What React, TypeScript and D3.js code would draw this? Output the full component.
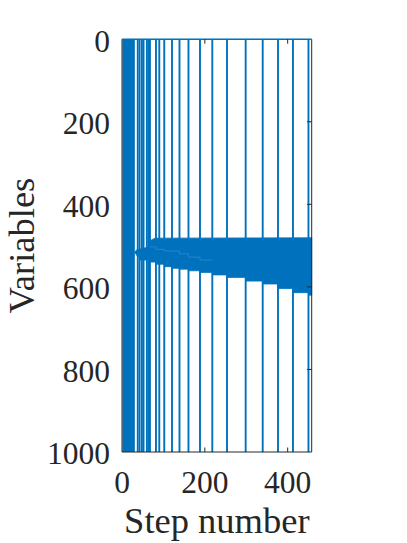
import React from "react";
import * as d3 from "d3";

// ---- data ----
const xTicks = [0, 200, 400];
const yTicks = [0, 200, 400, 600, 800, 1000];
const xDomain = [0, 458];
const yDomain = [0, 1000];
// dense block of steps drawn as solid
const denseBlock = [1, 31];
// individual vertical lines (step numbers)
const lineSteps = [38, 42.5, 48, 52, 60, 64, 67.5, 82, 90, 102, 120.7, 138.8, 160.5, 188.3, 218, 253.5, 298.6, 339.7, 376.6, 412.8, 450.2];
// band: bottom edge (step-wise)
const bandBottomSteps = [31, 38, 42.5, 67.5, 82, 102, 120.7, 138.8, 160.5, 188.3, 218, 253.5, 298.6, 339.7, 376.6, 412.8, 450.2];
const bandBottomVars = [517, 527, 535, 540, 545, 551, 555, 557, 561, 565, 571, 577, 586, 593, 604, 614, 620];
// band: top edge
const bandTopSteps = [31, 36, 67.5, 67.5, 80, 458];
const bandTopVars = [515, 510, 503, 488, 482, 481];
// light gap line inside band
const gapSteps = [67.5, 82, 102, 138.8, 160.5, 188.3, 218];
const gapVars = [503, 509, 513, 520, 528, 535, 536];

const W = 407;
const H = 543;
const left = 122, right = 311.7, top = 39.2, bottom = 452;
const BLUE = "#0072BD";
const AX = "#262626";
const FONT = "'Liberation Serif', 'Times New Roman', serif";

export default function App() {
  const x = d3.scaleLinear().domain(xDomain).range([left, right]);
  const y = d3.scaleLinear().domain(yDomain).range([top, bottom]);

  const topPts: [number, number][] = bandTopSteps.map((s, i) => [x(s), y(bandTopVars[i])]);
  const botPts: [number, number][] = [];
  bandBottomSteps.forEach((s, i) => {
    const next = i + 1 < bandBottomSteps.length ? bandBottomSteps[i + 1] : xDomain[1];
    if (i === 0) {
      botPts.push([x(s), y(bandBottomVars[i])]);
    } else {
      botPts.push([x(s), y(bandBottomVars[i])]);
      botPts.push([x(next), y(bandBottomVars[i])]);
    }
  });
  const poly = [...topPts, ...botPts.reverse()];
  const polyPath = d3.line()(poly) + "Z";

  const gapLine = d3
    .line<number>()
    .x((s) => x(s))
    .y((_, i) => y(gapVars[i]))
    .curve(d3.curveStepAfter)(gapSteps);

  return (
    <svg
      width={W}
      height={H}
      style={{ position: "absolute", left: 0, top: 0, background: "#fff" }}
    >
      <rect x={0} y={0} width={W} height={H} fill="#fff" />
      <rect
        x={x(denseBlock[0])}
        y={y(yDomain[0])}
        width={x(denseBlock[1]) - x(denseBlock[0])}
        height={y(yDomain[1]) - y(yDomain[0])}
        fill={BLUE}
      />
      {lineSteps.map((s, i) => (
        <line
          key={i}
          x1={x(s)}
          x2={x(s)}
          y1={y(yDomain[0])}
          y2={y(yDomain[1])}
          stroke={BLUE}
          strokeWidth={1.9}
        />
      ))}
      <path d={polyPath} fill={BLUE} stroke={BLUE} strokeWidth={0.8} />
      <path d={gapLine || ""} fill="none" stroke="#2f86cb" strokeWidth={0.9} />

      <line x1={left} x2={left} y1={top} y2={bottom} stroke={AX} strokeWidth={1} />
      <line x1={left} x2={right} y1={bottom} y2={bottom} stroke={AX} strokeWidth={1} />
      <line x1={right} x2={right} y1={top} y2={bottom} stroke={AX} strokeWidth={1} />
      <line x1={left} x2={right} y1={top} y2={top} stroke={BLUE} strokeWidth={1.5} />

      {xTicks.filter((t) => t > 0).map((t) => (
        <g key={"xt" + t}>
          <line x1={x(t)} x2={x(t)} y1={bottom} y2={bottom - 4.5} stroke={AX} strokeWidth={1} />
          <line x1={x(t)} x2={x(t)} y1={top} y2={top + 4.5} stroke={AX} strokeWidth={1} />
        </g>
      ))}
      {yTicks.filter((t) => t > 0 && t < 1000).map((t) => (
        <line key={"yt" + t} x1={right} x2={right - 4.5} y1={y(t)} y2={y(t)} stroke={AX} strokeWidth={1} />
      ))}

      {xTicks.map((t) => (
        <text
          key={"xl" + t}
          x={x(t)}
          y={493}
          textAnchor="middle"
          fontFamily={FONT}
          fontSize={31.5}
          fill={AX}
        >
          {t}
        </text>
      ))}
      {yTicks.map((t) => (
        <text
          key={"yl" + t}
          x={110}
          y={y(t) + 12.3}
          textAnchor="end"
          fontFamily={FONT}
          fontSize={31.5}
          fill={AX}
        >
          {t}
        </text>
      ))}

      <text
        x={(left + right) / 2}
        y={533}
        textAnchor="middle"
        fontFamily={FONT}
        fontSize={36.5}
        fill={AX}
      >
        Step number
      </text>
      <text
        transform={`translate(33.5, ${(top + bottom) / 2}) rotate(-90)`}
        textAnchor="middle"
        fontFamily={FONT}
        fontSize={36.5}
        fill={AX}
      >
        Variables
      </text>
    </svg>
  );
}
